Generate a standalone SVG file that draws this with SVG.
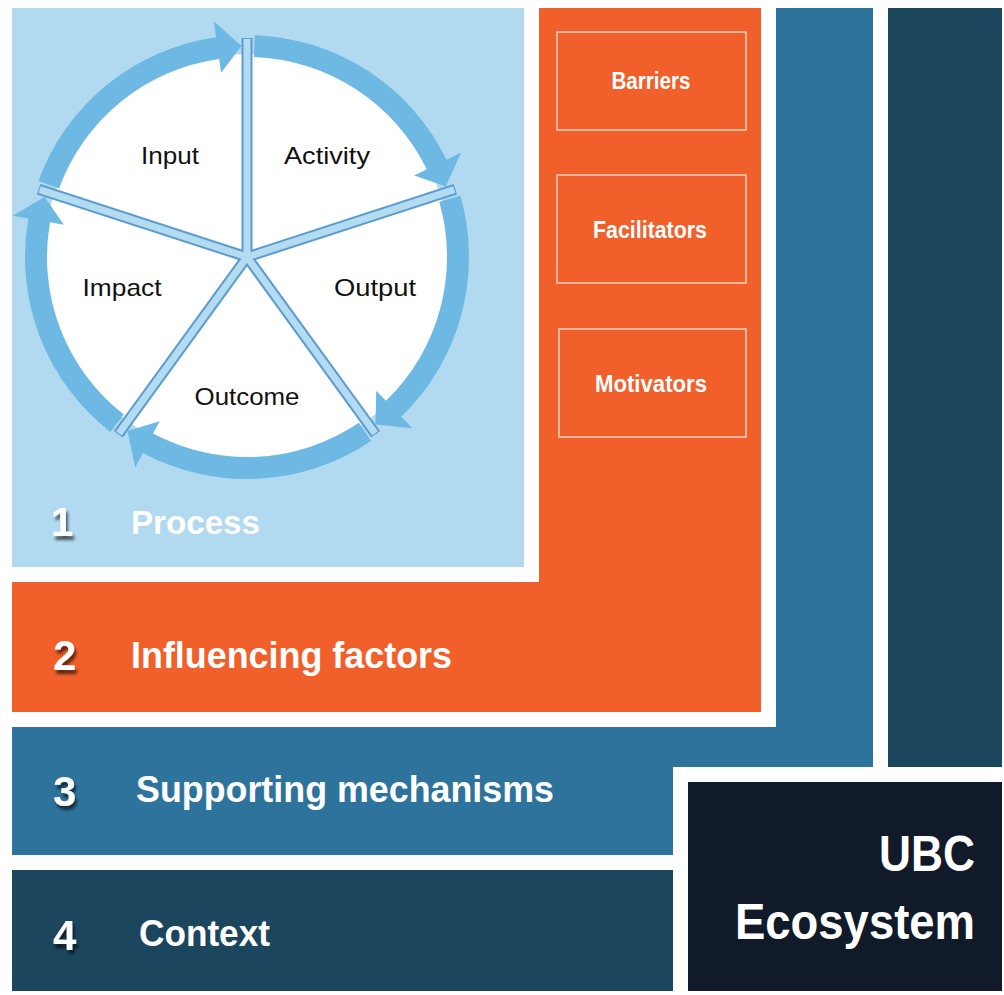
<svg xmlns="http://www.w3.org/2000/svg" xmlns:xlink="http://www.w3.org/1999/xlink" width="1004" height="995" viewBox="0 0 1004 995">
<style>
.lbl{font-family:"Liberation Sans",Arial,sans-serif;font-size:24px;fill:#111;text-anchor:middle}
.num{font-family:"Liberation Sans",Arial,sans-serif;font-weight:bold;font-size:42px;fill:#fff}
.ttl{font-family:"Liberation Sans",Arial,sans-serif;font-weight:bold;font-size:37px;fill:#fff}
.box{fill:none;stroke:#fcd3c0;stroke-width:1.5}
.btxt{font-family:"Liberation Sans",Arial,sans-serif;font-weight:bold;font-size:23px;fill:#fff;text-anchor:middle}
.arc{fill:#6db9e4}
.spokeO{stroke:#5a9bd2;stroke-width:11;stroke-linecap:butt}
.spokeI{stroke:#b4dcf0;stroke-width:7;stroke-linecap:butt}
</style>
<defs>
<filter id="sh" x="-30%" y="-30%" width="160%" height="160%">
<feDropShadow dx="2" dy="4" stdDeviation="1.8" flood-color="#000" flood-opacity="0.6"/>
</filter>
<path id="seg" d="M221.86,7.75 A222,222 0 0,1 97.32,199.53 L104.33,213.91 L70.43,198.90 L81.54,167.17 L87.67,179.76 A200,200 0 0,0 199.88,6.98 Z"/>
</defs>
<rect width="1004" height="995" fill="#fff"/>
<g id="layer4">
<path d="M888,8 H1002 V767 H888 Z" fill="#1b465e"/>
<rect x="12" y="870" width="661" height="121" fill="#1b465e"/>
<text class="num" x="53" y="950" filter="url(#sh)">4</text>
<text class="ttl" x="139" y="946" textLength="131" lengthAdjust="spacingAndGlyphs">Context</text>
</g>
<g id="layer3">
<path d="M776,8 H873 V767 H673 V855 H12 V727 H776 Z" fill="#2d739c"/>
<text class="num" x="53" y="806" filter="url(#sh)">3</text>
<text class="ttl" x="136" y="802" textLength="418" lengthAdjust="spacingAndGlyphs">Supporting mechanisms</text>
</g>
<g id="layer2">
<path d="M539,8 H761 V712 H12 V582 H539 Z" fill="#f15f2a"/>
<text class="num" x="53" y="670" filter="url(#sh)">2</text>
<text class="ttl" x="131" y="668" textLength="321" lengthAdjust="spacingAndGlyphs">Influencing factors</text>
</g>
<g id="barriers">
<rect class="box" x="557" y="32" width="189" height="98"/>
<text class="btxt" x="651" y="89" textLength="79" lengthAdjust="spacingAndGlyphs">Barriers</text>
</g>
<g id="facilitators">
<rect class="box" x="557" y="175" width="189" height="108"/>
<text class="btxt" x="650" y="238" textLength="114" lengthAdjust="spacingAndGlyphs">Facilitators</text>
</g>
<g id="motivators">
<rect class="box" x="559" y="329" width="187" height="108"/>
<text class="btxt" x="651" y="392" textLength="112" lengthAdjust="spacingAndGlyphs">Motivators</text>
</g>
<g id="ubc">
<rect x="688" y="782" width="314" height="209" fill="#111a29"/>
<text class="ttl" x="975" y="871" text-anchor="end" textLength="96" lengthAdjust="spacingAndGlyphs" style="font-size:50px">UBC</text>
<text class="ttl" x="735" y="939" style="font-size:50px" textLength="240" lengthAdjust="spacingAndGlyphs">Ecosystem</text>
</g>
<g id="layer1">
<rect x="12" y="8" width="512" height="559" fill="#b1d9ef"/>
<text class="num" x="51" y="536" filter="url(#sh)" style="font-size:40px">1</text>
<text class="ttl" x="131" y="534" style="font-size:34px" textLength="129" lengthAdjust="spacingAndGlyphs">Process</text>
</g>
<g id="cycle">
<circle cx="247" cy="257" r="203" fill="#fff"/>
<g id="connectors" transform="translate(247,257)">
<use xlink:href="#seg" class="arc" transform="rotate(-162)"/>
<use xlink:href="#seg" class="arc" transform="rotate(-90)"/>
<use xlink:href="#seg" class="arc" transform="rotate(-18)"/>
<use xlink:href="#seg" class="arc" transform="rotate(54)"/>
<use xlink:href="#seg" class="arc" transform="rotate(126)"/>
</g>
<g id="spokes" transform="translate(247,257)">
<line class="spokeO" x1="0" y1="0" x2="0" y2="-219"/>
<line class="spokeO" x1="0" y1="0" x2="208.3" y2="-67.7"/>
<line class="spokeO" x1="0" y1="0" x2="128.7" y2="177.2"/>
<line class="spokeO" x1="0" y1="0" x2="-128.7" y2="177.2"/>
<line class="spokeO" x1="0" y1="0" x2="-208.3" y2="-67.7"/>
<line class="spokeI" x1="0" y1="0" x2="0" y2="-218"/>
<line class="spokeI" x1="0" y1="0" x2="207.3" y2="-67.4"/>
<line class="spokeI" x1="0" y1="0" x2="128.1" y2="176.4"/>
<line class="spokeI" x1="0" y1="0" x2="-128.1" y2="176.4"/>
<line class="spokeI" x1="0" y1="0" x2="-207.3" y2="-67.4"/>
</g>
<g id="input"><text class="lbl" x="170" y="164" textLength="58" lengthAdjust="spacingAndGlyphs">Input</text></g>
<g id="activity"><text class="lbl" x="327" y="164" textLength="86" lengthAdjust="spacingAndGlyphs">Activity</text></g>
<g id="output"><text class="lbl" x="375" y="296" textLength="82" lengthAdjust="spacingAndGlyphs">Output</text></g>
<g id="outcome"><text class="lbl" x="247" y="405" textLength="105" lengthAdjust="spacingAndGlyphs">Outcome</text></g>
<g id="impact"><text class="lbl" x="122" y="296" textLength="79" lengthAdjust="spacingAndGlyphs">Impact</text></g>
</g>
</svg>
